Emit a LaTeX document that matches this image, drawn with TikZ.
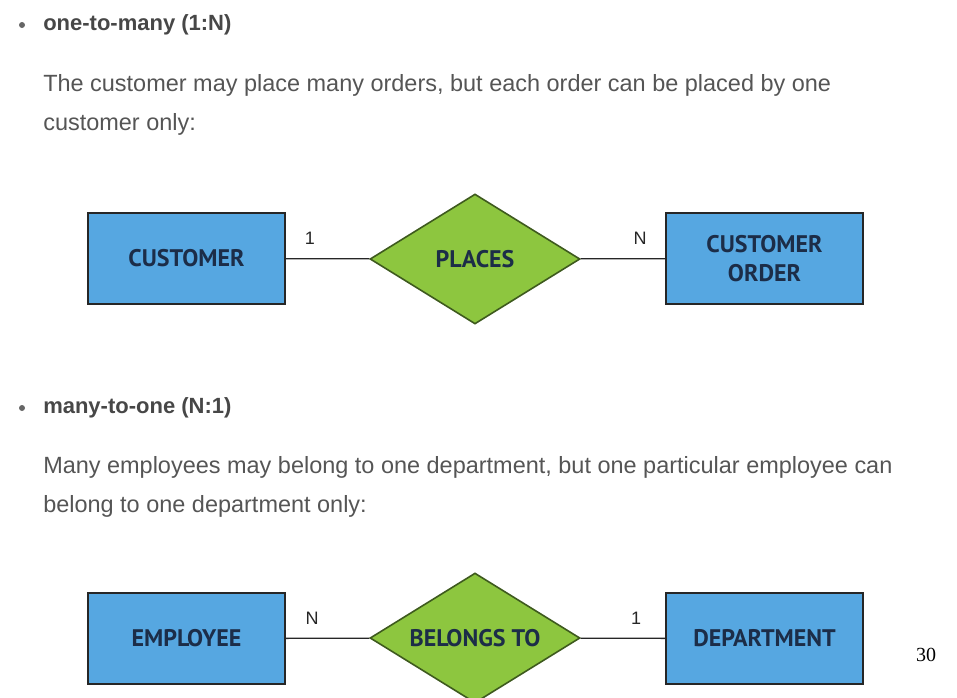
\documentclass[tikz,border=0pt]{standalone}
\usepackage{fontspec}
\setmainfont{Liberation Sans}
\newfontfamily\boxfont{PT Sans}
\newfontfamily\pagefont{Liberation Serif}
\usetikzlibrary{shapes.geometric, positioning}

\definecolor{entblue}{RGB}{86,167,225}
\definecolor{relgreen}{RGB}{141,198,63}
\definecolor{relborder}{RGB}{62,90,30}
\definecolor{labelnavy}{RGB}{28,45,72}
\definecolor{bodygray}{RGB}{85,85,85}

% keep the diamond size fixed whatever its label
\newcommand{\rellabel}[1]{\makebox[0pt]{#1}}

\tikzset{
    entity/.style={draw=black!85, line width=1.5pt, fill=entblue, minimum width=147.75pt,
        minimum height=68.25pt, align=center, font=\boxfont\bfseries\fontsize{18}{21.5}\selectfont,
        text=labelnavy},
    relation/.style={diamond, draw=relborder, line width=1.2pt, fill=relgreen, minimum width=157.5pt,
        minimum height=97.5pt, inner sep=0pt, font=\boxfont\bfseries\fontsize{18}{21.5}\selectfont,
        text=labelnavy},
    card/.style={font=\fontsize{13.5}{16}\selectfont, text=black!85},
    heading/.style={anchor=west, inner sep=0pt, font=\bfseries\fontsize{16.5}{19}\selectfont, text=black!72},
    para/.style={anchor=west, inner sep=0pt, font=\fontsize{17.6}{21}\selectfont, text=bodygray},
    link/.style={line width=1pt, black!85}
}

\begin{document}
\begin{tikzpicture}[x=0.75pt, y=-0.75pt]
    \useasboundingbox (0,0) rectangle (957,697);
    \clip (0,0) rectangle (957,697);

    % one-to-many
    \fill[black!60] (22,25) circle (3);
    \node[heading] (h1) at (43,25) {one-to-many (1:N)};
    \node[para] (p1a) at (43,85) {The customer may place many orders, but each order can be placed by one};
    \node[para] (p1b) at (43,124) {customer only:};

    \node[entity] (customer) at (186.5,258.5) {CUSTOMER};
    \node[relation] (places) at (475,259) {\rellabel{PLACES}};
    \node[entity] (order) at (764.5,258.5) {CUSTOMER\\ORDER};
    \draw[link] (customer) -- (places);
    \draw[link] (places) -- (order);
    \node[card] (c1) at (310,238) {1};
    \node[card] (cn) at (640,238) {N};

    % many-to-one
    \fill[black!60] (22,408) circle (3);
    \node[heading] (h2) at (43,408) {many-to-one (N:1)};
    \node[para] (p2a) at (43,467) {Many employees may belong to one department, but one particular employee can};
    \node[para] (p2b) at (43,506) {belong to one department only:};

    \node[entity] (employee) at (186.5,638.5) {EMPLOYEE};
    \node[relation] (belongs) at (475,638) {\rellabel{BELONGS TO}};
    \node[entity] (dept) at (764.5,638.5) {DEPARTMENT};
    \draw[link] (employee) -- (belongs);
    \draw[link] (belongs) -- (dept);
    \node[card] (en) at (312,618) {N};
    \node[card] (d1) at (636,618) {1};

    \node[font=\pagefont\fontsize{15}{18}\selectfont] (page) at (926,655) {30};
\end{tikzpicture}
\end{document}
